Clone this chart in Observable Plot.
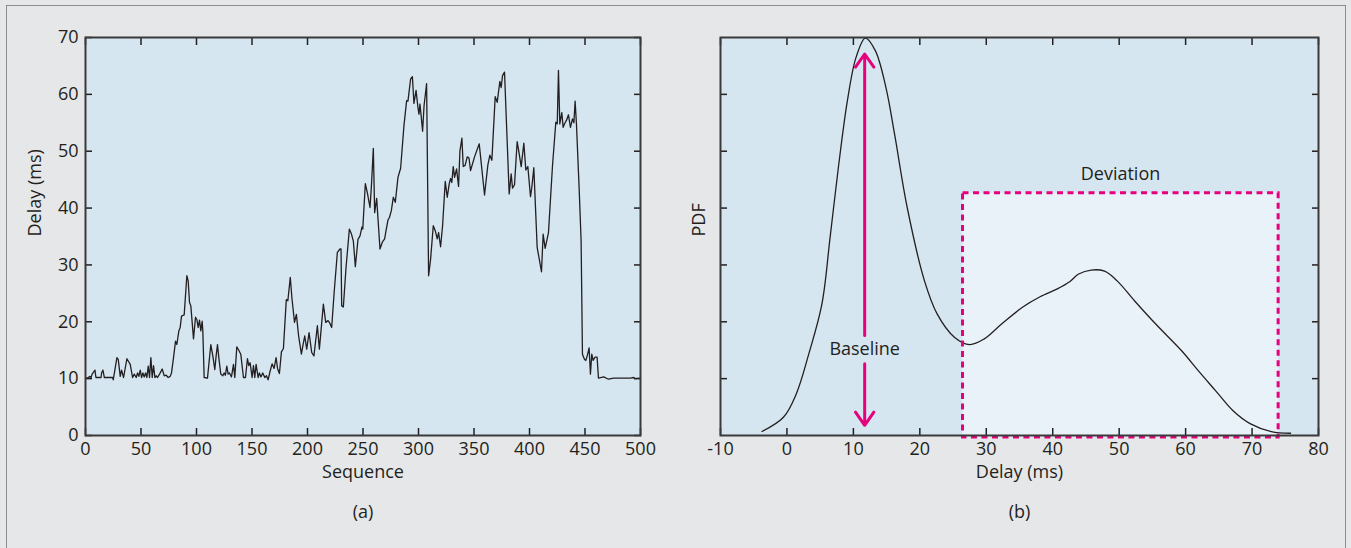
<!DOCTYPE html>
<html>
<head>
<meta charset="utf-8">
<script src="https://cdn.jsdelivr.net/npm/d3@7"></script>
<script src="https://cdn.jsdelivr.net/npm/@observablehq/plot@0.6"></script>
<style>
  html, body { margin: 0; padding: 0; background: #e6e7e8; }
  #fig { position: relative; width: 1351px; height: 548px; background: #e6e7e8; overflow: hidden; font-family: "Open Sans", sans-serif; }
  #border { position: absolute; left: 6px; top: 5px; width: 1340px; height: 600px; border: 1.5px solid #8c8c8c; box-sizing: border-box; }
  #a { position: absolute; left: 0; top: 0; }
  #b { position: absolute; left: 680px; top: 0; }
</style>
</head>
<body>
<div id="fig">
  <div id="border"></div>
  <div id="a"></div>
  <div id="b"></div>
</div>
<script>
// ---- Panel (a): delay time series ----
const seq = [0,2,4,5,6,8.5,9.4,14,14.5,15.7,17,24.4,25,28.3,29.5,31.3,32.5,34.3,37.3,40.3,42.4,43.9,45.7,46.9,48.1,49.3,50.5,51.7,52.9,54.1,55.3,56.5,57.7,58.9,60.1,61.3,62.5,63.7,64.9,66.7,69.1,70.9,72.7,74.5,76.3,77.5,79.3,81.1,82.3,84.1,85.3,86.5,88.9,91.3,92.5,93.7,94.9,97.3,99.1,100.3,101.5,102.7,103.9,105.1,105.7,106.9,109.9,112.9,114.7,116.5,117.7,118.9,120.1,121.9,123.7,124.9,126,127.3,128.5,129.7,131.5,133.3,134.5,136.3,138.1,139.9,142.3,144.1,145.9,147.1,148.3,150.1,151.3,152.5,153.7,155.5,156.7,158,159.7,161.5,163,164.5,166.3,168.1,169.9,171.7,173,174.7,176.5,178.3,180.9,182.3,184.5,186,188.3,190,192,194.5,196,197.5,199.3,201.4,203.8,205.8,208.9,210.7,214.3,216.4,218.5,220,221.8,223.9,226.9,229.3,230.2,230.8,232.3,234.7,237.7,239.5,241.3,243.1,245.5,247.3,249.1,249.8,252.1,253.9,256.3,257.5,259.3,260.5,262.3,265.3,267.4,269.5,270.7,272.5,273.7,275.5,277.3,279.1,281.5,283.9,286.9,289.3,290.5,292.9,294.5,295.9,297.8,299.5,300.4,301.3,302.5,303.7,305,307.3,309.1,310.9,313.3,315.1,316.9,318.1,319.9,321.7,324.1,325.9,327.7,328.9,330,331.3,332.5,334.3,336.1,337.3,339.1,340.3,342,343.9,345.5,346.9,350.5,354.7,359.5,362.5,364.3,366.1,369.1,370.9,373.3,374.5,375.7,377.5,381.7,383.5,384.7,386.5,388.9,390.2,392.5,394.9,396.7,398.5,400.9,402,403.9,406.9,410.8,412.3,414.1,417.1,420.7,423.7,425,426.1,427.3,429.1,430.3,432,433.5,435.1,436.9,438.7,440,441.1,442.3,444.7,446.5,447.7,449.5,450.7,452,453.7,454.9,456.1,457.3,459.1,460.9,462.1,466.9,471.1,475.9,490.9,494,495,500];
const delay = [10.2,10.1,10.4,10.2,10.8,11.5,10.2,10.2,11,11.5,10.2,10.2,9.8,13.7,13.4,10.4,11.5,10.2,13.5,12.5,10.2,10.8,10.2,11,10.4,11.5,10.2,11,10.3,11,10.2,12.2,10.2,13.7,10.2,12.3,10.2,10.5,10.2,10.8,11.7,10.5,10.6,10.2,10.4,11,13.7,16.6,16,18.4,19,21,21.2,28.1,27.2,23.4,22.8,17,20.8,20.4,19,20.3,18.4,20.1,18.4,10.2,10.1,16,14,11.6,14,16,13.7,10.8,10.5,11,10.6,12.2,10.8,11,10.3,12.5,10.2,15.6,15,14.3,10.2,10.2,13.5,12.3,12.8,10.2,12.3,10.2,12.5,10.2,11,10.3,11,10.2,10.5,9.8,11.3,12.6,11.8,13.7,11.8,10.9,14.7,15.3,23.9,23.7,27.8,24.1,19.9,21.3,17.5,14.3,16,17.5,15.2,18.1,14.6,14,19.3,15.2,23.1,19.9,20.2,19.8,19,24.9,32.2,32.8,32.8,22.8,22.6,29.5,36.3,35.5,34.2,29.7,34.5,35.1,36.7,36.3,44.3,42.7,40.1,43.6,50.5,39.2,41.7,32.8,34,34.6,36,37.9,38.3,39.5,41.9,41,45.4,47,54.5,58.9,58.8,62.7,63.1,58.4,60.7,57.7,56.5,58.3,56,53.5,58,61.9,28.1,31,36.9,36,34.6,35.7,33.2,36.9,44.7,41.9,44.3,45.2,44.5,47.3,45.4,46.9,43.8,50,52.3,47.3,47.5,49,48.8,46.6,49,51.3,42.3,47.6,49.3,48.4,59.6,58.6,62.3,61.2,63.3,63.9,42.5,46,43.5,44.1,51.7,50.2,47.3,51.4,46.7,47.3,42,43.5,47.1,33.1,28.8,35.4,32.9,35.7,47.4,55.1,54.8,64.2,54.8,56.8,54.2,55,55.5,56.4,54.2,55.7,55,58.8,54.8,43.6,34.2,14.3,13.4,13.2,14,15.4,10.8,14.3,13.2,13.8,13.8,10.1,10.3,9.9,10.1,10.1,10.2,10,10.1];
const seqTicks = [0,50,100,150,200,250,300,350,400,450,500];
const delayTicks = [0,10,20,30,40,50,60,70];

// ---- Panel (b): PDF of delay ----
const pdfDelay = [-3.75,-0.53,1.4,3.3,5.26,6.5,7.8,9.1,10.4,11.8,13.3,14.9,16.2,18.1,20.7,22.6,25.2,27.5,29.7,32.3,35.5,38.1,40.7,42.6,43.9,45.8,47.8,49.7,52.3,55.5,59.4,61.9,64.5,67.1,69.7,72.9,75.8];
const pdfValue = [0.0007,0.0032,0.0073,0.0144,0.0231,0.0349,0.0477,0.0589,0.0665,0.0699,0.0677,0.0612,0.0530,0.0401,0.0272,0.0214,0.0173,0.0160,0.0170,0.0196,0.0226,0.0244,0.0258,0.0271,0.0284,0.0291,0.0289,0.0272,0.0237,0.0196,0.0149,0.0114,0.0079,0.0044,0.0021,0.0007,0.0004];
const pdfXTicks = [-10,0,10,20,30,40,50,60,70,80];
const pdfYTicks = [0.01,0.02,0.03,0.04,0.05,0.06];
// annotations
const baselineArrowUp = [{x: 11.7, from: 0.0176, to: 0.0671}];
const baselineArrowDown = [{x: 11.7, from: 0.0126, to: 0.0018}];
const baselineLabel = [{x: 11.7, y: 0.0151, text: "Baseline"}];
const deviationBox = [{x1: 26.5, x2: 74, y1: -0.00035, y2: 0.0426}];
const deviationLabel = [{x: 50.2, y: 0.0459, text: "Deviation"}];

const ink = "#231f20";
const plotBg = "#d6e6f1";
const magenta = "#e6007e";
const baseStyle = {background: "transparent", fontFamily: "'Open Sans', sans-serif", fontSize: "18px", color: ink, overflow: "visible"};
const plain = d => String(d);

const series = seq.map((s, i) => ({seq: s, delay: delay[i]}));

const chartA = Plot.plot({
  width: 680, height: 548,
  marginLeft: 85, marginRight: 40, marginTop: 37, marginBottom: 113,
  style: baseStyle,
  x: {domain: [0, 500], label: null},
  y: {domain: [0, 70], label: null},
  marks: [
    Plot.frame({fill: plotBg, stroke: null}),
    Plot.line(series, {x: "seq", y: "delay", stroke: ink, strokeWidth: 1.3}),
    Plot.axisX(seqTicks, {anchor: "bottom", tickSize: -7, tickPadding: 14, tickFormat: plain, strokeWidth: 1.5, label: null}),
    Plot.axisX(seqTicks, {anchor: "top", tickSize: -7, tickFormat: () => "", strokeWidth: 1.5, label: null}),
    Plot.axisY(delayTicks, {anchor: "left", tickSize: -7, tickPadding: 14, tickFormat: plain, strokeWidth: 1.5, label: null}),
    Plot.axisY(delayTicks, {anchor: "right", tickSize: -7, tickFormat: () => "", strokeWidth: 1.5, label: null}),
    Plot.frame({stroke: "#3a3a3a", strokeWidth: 2}),
    Plot.text(["Sequence"], {text: d => d, frameAnchor: "bottom", dy: 42, fill: ink}),
    Plot.text(["(a)"], {text: d => d, frameAnchor: "bottom", dy: 82, fill: ink}),
    Plot.text(["Delay (ms)"], {text: d => d, frameAnchor: "left", dx: -50, rotate: -90, fill: ink})
  ]
});
document.getElementById("a").appendChild(chartA);

const pdf = pdfDelay.map((d, i) => ({delay: d, pdf: pdfValue[i]}));

const chartB = Plot.plot({
  width: 671, height: 548,
  marginLeft: 40, marginRight: 33, marginTop: 37, marginBottom: 113,
  style: baseStyle,
  x: {domain: [-10, 80], label: null},
  y: {domain: [0, 0.07], label: null},
  marks: [
    Plot.frame({fill: plotBg, stroke: null}),
    Plot.rect(deviationBox, {x1: "x1", x2: "x2", y1: "y1", y2: "y2", fill: "#eaf2f9"}),
    Plot.line(pdf, {x: "delay", y: "pdf", curve: "catmull-rom", stroke: ink, strokeWidth: 1.3}),
    Plot.rect(deviationBox, {x1: "x1", x2: "x2", y1: "y1", y2: "y2", fill: "none", stroke: magenta, strokeWidth: 3, strokeDasharray: "6,4.5"}),
    Plot.arrow(baselineArrowUp, {x: "x", y1: "from", y2: "to", stroke: magenta, strokeWidth: 3, headAngle: 70, headLength: 8}),
    Plot.arrow(baselineArrowDown, {x: "x", y1: "from", y2: "to", stroke: magenta, strokeWidth: 3, headAngle: 70, headLength: 8}),
    Plot.text(baselineLabel, {x: "x", y: "y", text: "text", fill: ink}),
    Plot.text(deviationLabel, {x: "x", y: "y", text: "text", fill: ink}),
    Plot.axisX(pdfXTicks, {anchor: "bottom", tickSize: -7, tickPadding: 14, tickFormat: plain, strokeWidth: 1.5, label: null}),
    Plot.axisX(pdfXTicks, {anchor: "top", tickSize: -7, tickFormat: () => "", strokeWidth: 1.5, label: null}),
    Plot.axisY(pdfYTicks, {anchor: "left", tickSize: -7, tickFormat: () => "", strokeWidth: 1.5, label: null}),
    Plot.axisY(pdfYTicks, {anchor: "right", tickSize: -7, tickFormat: () => "", strokeWidth: 1.5, label: null}),
    Plot.frame({stroke: "#3a3a3a", strokeWidth: 2}),
    Plot.text(["Delay (ms)"], {text: d => d, frameAnchor: "bottom", dy: 42, fill: ink}),
    Plot.text(["(b)"], {text: d => d, frameAnchor: "bottom", dy: 82, fill: ink}),
    Plot.text(["PDF"], {text: d => d, frameAnchor: "left", dx: -21, rotate: -90, fill: ink})
  ]
});
document.getElementById("b").appendChild(chartB);
</script>
</body>
</html>
